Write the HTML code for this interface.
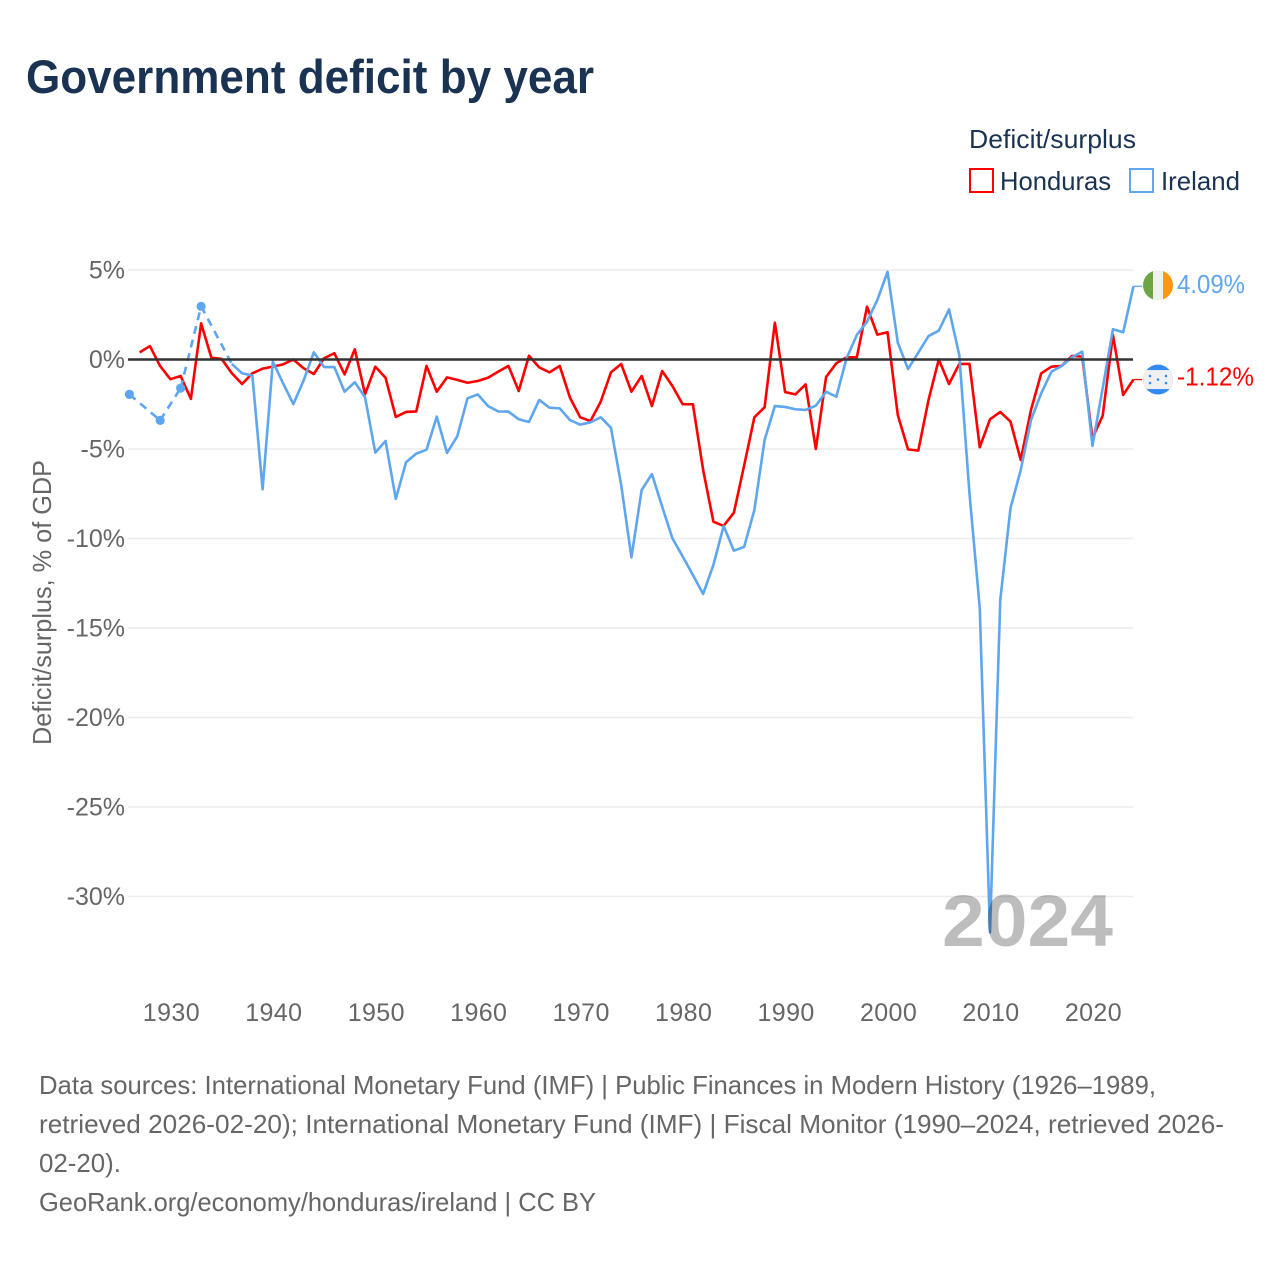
<!DOCTYPE html>
<html lang="en">
<head>
<meta charset="utf-8">
<title>Government deficit by year</title>
<style>
  html,body{margin:0;padding:0;background:#fff;}
  svg{display:block;font-family:"Liberation Sans",sans-serif;}
</style>
</head>
<body>
<svg id="chart" xmlns="http://www.w3.org/2000/svg" width="1280" height="1280" viewBox="0 0 1280 1280">
  <rect width="1280" height="1280" fill="#fff"/>
  <text x="26" y="93" font-size="47" font-weight="700" fill="#1a3352" textLength="568" lengthAdjust="spacingAndGlyphs">Government deficit by year</text>

  <text x="969" y="148" font-size="26" fill="#1a3352" textLength="167" lengthAdjust="spacingAndGlyphs">Deficit/surplus</text>
  <rect x="970" y="169" width="23" height="23" fill="#fff" stroke="#ff0000" stroke-width="2"/>
  <text x="1000" y="190" font-size="26" fill="#1a3352" textLength="111" lengthAdjust="spacingAndGlyphs">Honduras</text>
  <rect x="1130" y="169" width="23" height="23" fill="#fff" stroke="#5ea6ee" stroke-width="2"/>
  <text x="1161" y="190" font-size="26" fill="#1a3352" textLength="79" lengthAdjust="spacingAndGlyphs">Ireland</text>

  <text transform="translate(51,745) rotate(-90)" font-size="26" fill="#666" textLength="285" lengthAdjust="spacingAndGlyphs">Deficit/surplus, % of GDP</text>

  <g id="grid"></g>
  <g id="xaxis"></g>
  <g id="series"></g>
  <line id="zero" stroke="#333" stroke-width="2.4"></line>

  <text x="942" y="946" font-size="73" font-weight="700" fill="#000" fill-opacity="0.26" textLength="171" lengthAdjust="spacingAndGlyphs">2024</text>

  <g id="ends"></g>

  <g font-size="26" fill="#666">
    <text x="39" y="1094" textLength="1117" lengthAdjust="spacingAndGlyphs">Data sources: International Monetary Fund (IMF) | Public Finances in Modern History (1926–1989,</text>
    <text x="39" y="1133" textLength="1185" lengthAdjust="spacingAndGlyphs">retrieved 2026-02-20); International Monetary Fund (IMF) | Fiscal Monitor (1990–2024, retrieved 2026-</text>
    <text x="39" y="1172" textLength="82" lengthAdjust="spacingAndGlyphs">02-20).</text>
    <text x="39" y="1211" textLength="557" lengthAdjust="spacingAndGlyphs">GeoRank.org/economy/honduras/ireland | CC BY</text>
  </g>
</svg>
<script>
const yTicks = [5, 0, -5, -10, -15, -20, -25, -30];
const xTicks = [1930, 1940, 1950, 1960, 1970, 1980, 1990, 2000, 2010, 2020];

const hondurasStart = 1927;
const hondurasValues = [
  0.40, 0.75, -0.37, -1.10, -0.92, -2.20, 2.02, 0.10, 0.03, -0.77,
  -1.37, -0.77, -0.51, -0.40, -0.27, 0.00, -0.49, -0.81, 0.07, 0.35,
  -0.83, 0.57, -1.94, -0.40, -1.02, -3.21, -2.93, -2.90, -0.36, -1.80,
  -1.00, -1.14, -1.30, -1.20, -1.02, -0.68, -0.36, -1.76, 0.21, -0.44,
  -0.72, -0.36, -2.13, -3.23, -3.44, -2.36, -0.72, -0.25, -1.80, -0.92,
  -2.60, -0.64, -1.48, -2.50, -2.50, -6.17, -9.06, -9.30, -8.56, -5.93,
  -3.23, -2.67, 2.06, -1.82, -1.95, -1.39, -5.00, -0.98, -0.21, 0.12,
  0.12, 2.95, 1.39, 1.52, -3.10, -5.02, -5.09, -2.26, 0.00, -1.37,
  -0.25, -0.25, -4.90, -3.34, -2.93, -3.47, -5.61, -2.82, -0.77, -0.40,
  -0.36, 0.20, 0.16, -4.40, -3.14, 1.37, -1.98, -1.12
];

const irelandYears = [
  1926, 1929, 1931, 1933, 1936, 1937, 1938, 1939, 1940, 1941,
  1942, 1943, 1944, 1945, 1946, 1947, 1948, 1949, 1950, 1951,
  1952, 1953, 1954, 1955, 1956, 1957, 1958, 1959, 1960, 1961,
  1962, 1963, 1964, 1965, 1966, 1967, 1968, 1969, 1970, 1971,
  1972, 1973, 1974, 1975, 1976, 1977, 1978, 1979, 1980, 1981,
  1982, 1983, 1984, 1985, 1986, 1987, 1988, 1989, 1990, 1991,
  1992, 1993, 1994, 1995, 1996, 1997, 1998, 1999, 2000, 2001,
  2002, 2003, 2004, 2005, 2006, 2007, 2008, 2009, 2010, 2011,
  2012, 2013, 2014, 2015, 2016, 2017, 2018, 2019, 2020, 2021,
  2022, 2023, 2024
];
const irelandValues = [
  -1.95, -3.40, -1.60, 2.97, -0.25, -0.77, -0.90, -7.25, -0.12, -1.33,
  -2.49, -1.18, 0.40, -0.42, -0.42, -1.80, -1.27, -2.11, -5.20, -4.55,
  -7.79, -5.74, -5.26, -5.04, -3.19, -5.22, -4.29, -2.17, -1.95, -2.60,
  -2.90, -2.91, -3.34, -3.49, -2.26, -2.69, -2.73, -3.38, -3.64, -3.51,
  -3.23, -3.81, -7.01, -11.05, -7.29, -6.40, -8.22, -9.99, -11.00, -12.04,
  -13.10, -11.48, -9.30, -10.68, -10.47, -8.41, -4.50, -2.60, -2.65, -2.78,
  -2.82, -2.58, -1.80, -2.08, 0.07, 1.37, 2.11, 3.32, 4.90, 0.94,
  -0.53, 0.38, 1.31, 1.61, 2.80, 0.25, -7.50, -13.88, -32.00, -13.44,
  -8.30, -6.17, -3.38, -1.89, -0.68, -0.36, 0.12, 0.44, -4.83, -1.60,
  1.69, 1.52, 4.09
];

const hondurasYears = hondurasValues.map((_, i) => hondurasStart + i);

const NS = 'http://www.w3.org/2000/svg';
const RED = '#ff0000';
const BLUE = '#5ea6ee';
const xScale = yr => 170.4 + (yr - 1930) * 10.245;
const yScale = v => 359.5 - v * 17.9;
function mk(tag, parent, attrs) {
  const el = document.createElementNS(NS, tag);
  for (const k in attrs) el.setAttribute(k, attrs[k]);
  parent.appendChild(el);
  return el;
}

const grid = document.getElementById('grid');
yTicks.forEach(v => {
  if (v !== 0) {
    const gl = mk('line', grid, {x1: 128, x2: 1133, y1: yScale(v), y2: yScale(v), stroke: '#ececec', 'stroke-width': 1.4});
    
    
  }
  const t = mk('text', grid, {x: 125, y: yScale(v) + 8.5, 'text-anchor': 'end', 'font-size': 25, fill: '#666'});
  
  
  t.textContent = v + '%';
});
const zero = document.getElementById('zero');
zero.setAttribute('x1', 128);
zero.setAttribute('x2', 1133);
zero.setAttribute('y1', yScale(0));
zero.setAttribute('y2', yScale(0));

const xaxis = document.getElementById('xaxis');
xTicks.forEach(yr => {
  const t = mk('text', xaxis, {x: xScale(yr) + 1, y: 1021, 'text-anchor': 'middle', 'font-size': 25, 'letter-spacing': 0.4, fill: '#666'});
  
  
  t.textContent = yr;
});

function drawSeries(years, values, color, name) {
  const g = mk('g', document.getElementById('series'), {});
  
  
  let run = [];
  const flush = () => {
    if (run.length > 1) {
      const pl = mk('polyline', g, {points: run.join(' '), fill: 'none', stroke: color, 'stroke-width': 2.6, 'stroke-linejoin': 'round'});
      
      
    }
    run = [];
  };
  years.forEach((yr, i) => {
    const px = xScale(yr) + ',' + yScale(values[i]);
    if (i > 0 && yr - years[i - 1] > 1) {
      flush();
      const d = mk('line', g, {x1: xScale(years[i - 1]), y1: yScale(values[i - 1]), x2: xScale(yr), y2: yScale(values[i]), stroke: color, 'stroke-width': 2.6, 'stroke-dasharray': '8 6'});
      
      
    }
    run.push(px);
    const prevAdj = i > 0 && yr - years[i - 1] === 1;
    const nextAdj = i < years.length - 1 && years[i + 1] - yr === 1;
    if (!prevAdj && !nextAdj) {
      const c = mk('circle', g, {cx: xScale(yr), cy: yScale(values[i]), r: 4.6, fill: color});
      
      
    }
  });
  flush();
  const last = values[values.length - 1];
  const lastYear = years[years.length - 1];
  const lead = mk('line', g, {x1: xScale(lastYear), x2: 1142, y1: yScale(last), y2: yScale(last), stroke: color, 'stroke-width': 1.3});
  
  
}
drawSeries(hondurasYears, hondurasValues, RED, 'honduras');
drawSeries(irelandYears, irelandValues, BLUE, 'ireland');

const ends = document.getElementById('ends');
const defs = mk('defs', ends, {});
const cpI = mk('clipPath', defs, {id: 'clip-ie'});
mk('circle', cpI, {cx: 1158, cy: yScale(irelandValues[irelandValues.length - 1]) - 1, r: 15});
const cpH = mk('clipPath', defs, {id: 'clip-hn'});
mk('circle', cpH, {cx: 1158, cy: yScale(hondurasValues[hondurasValues.length - 1]), r: 15});

const ieY = yScale(irelandValues[irelandValues.length - 1]) - 1;
const ieFlag = mk('g', ends, {'clip-path': 'url(#clip-ie)'});


mk('rect', ieFlag, {x: 1143, y: ieY - 15, width: 10, height: 30, fill: '#6da544'});
mk('rect', ieFlag, {x: 1153, y: ieY - 15, width: 10, height: 30, fill: '#f0f0f0'});
mk('rect', ieFlag, {x: 1163, y: ieY - 15, width: 10, height: 30, fill: '#ff9811'});

const hnY = yScale(hondurasValues[hondurasValues.length - 1]);
const hnFlag = mk('g', ends, {'clip-path': 'url(#clip-hn)'});


mk('rect', hnFlag, {x: 1143, y: hnY - 15, width: 30, height: 30, fill: '#338af3'});
mk('rect', hnFlag, {x: 1143, y: hnY - 9.5, width: 30, height: 19, fill: '#f0f0f0'});
[[-8, -3.5], [8, -3.5], [0, 0], [-8, 3.5], [8, 3.5]].forEach(o => {
  mk('circle', hnFlag, {cx: 1158 + o[0], cy: hnY + o[1], r: 1.3, fill: '#338af3'});
});

const ieLabel = mk('text', ends, {x: 1177, y: ieY + 7.5, 'font-size': 25.5, fill: BLUE, textLength: 68, lengthAdjust: 'spacingAndGlyphs'});


ieLabel.textContent = irelandValues[irelandValues.length - 1].toFixed(2) + '%';

const hnLabel = mk('text', ends, {x: 1177, y: hnY + 6, 'font-size': 25.5, fill: RED, textLength: 77, lengthAdjust: 'spacingAndGlyphs'});


hnLabel.textContent = hondurasValues[hondurasValues.length - 1].toFixed(2) + '%';
</script>
</body>
</html>
